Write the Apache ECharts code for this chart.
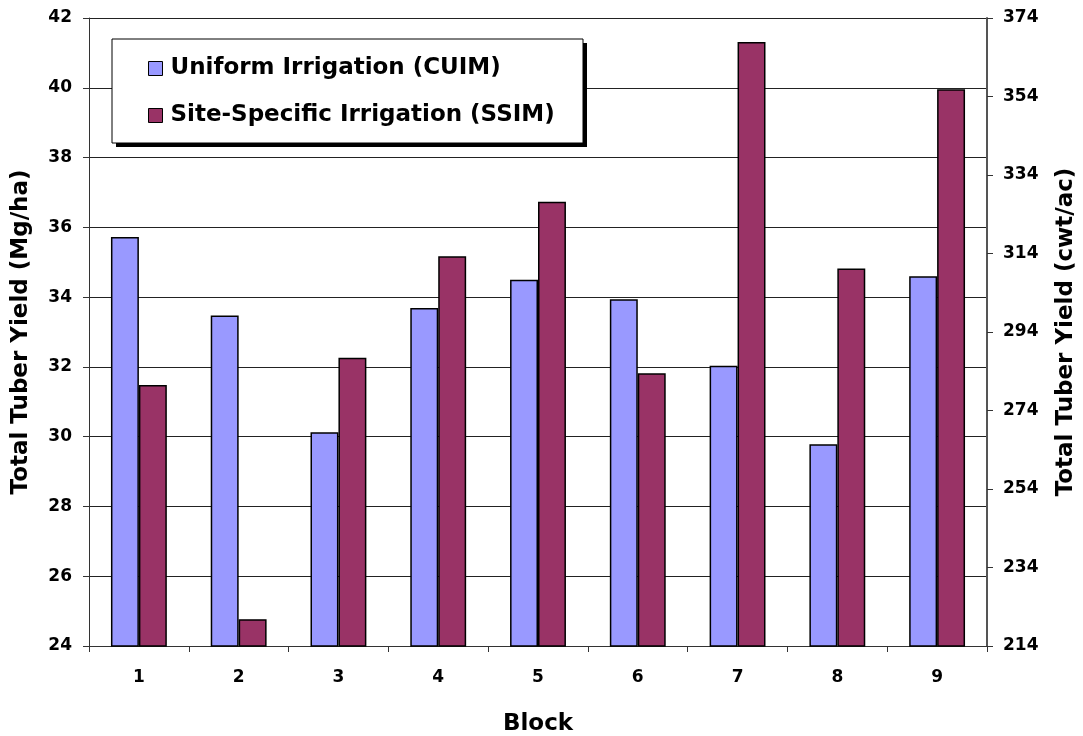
<!DOCTYPE html>
<html>
<head>
<meta charset="utf-8">
<script src="https://cdn.jsdelivr.net/npm/echarts@6/dist/echarts.min.js"></script>
<style>
  html, body { margin: 0; padding: 0; background: #fff; }
  #chart { width: 1083px; height: 736px; }
</style>
</head>
<body>
<div id="chart"></div>
<script>
// 区块
const blocks = ['1', '2', '3', '4', '5', '6', '7', '8', '9'];
// 产量 Mg/ha
const uniformYield = [35.72, 33.47, 30.13, 33.69, 34.50, 33.94, 32.03, 29.78, 34.60];
const siteSpecificYield = [31.48, 24.77, 32.26, 35.17, 36.73, 31.82, 41.31, 34.82, 39.96];
// 右轴 cwt/ac 起点
const rightAxisBase = 214;

const font = '"DejaVu Sans", Arial, sans-serif';
const chart = echarts.init(document.getElementById('chart'));

// 图例方框
const legendBox = { x: 112, y: 39, width: 471, height: 104 };

chart.setOption({
  backgroundColor: '#fff',
  animation: false,
  textStyle: { fontFamily: font },
  grid: { left: 89, right: 96, top: 18, bottom: 90, containLabel: false, outerBoundsMode: 'none' },
  graphic: [
    {
      type: 'rect',
      z: 90,
      shape: { x: legendBox.x + 4, y: legendBox.y + 4, width: legendBox.width, height: legendBox.height },
      style: { fill: '#000' },
    },
    {
      type: 'rect',
      z: 91,
      shape: legendBox,
      style: { fill: '#fff', stroke: '#000', lineWidth: 1 },
    },
  ],
  legend: {
    orient: 'vertical',
    left: 148,
    top: 57,
    padding: 0,
    itemGap: 24,
    itemWidth: 14,
    itemHeight: 14,
    icon: 'rect',
    z: 100,
    textStyle: { fontSize: 23, fontWeight: 'bold', color: '#000', fontFamily: font, padding: [0, 0, 0, 3] },
    data: [
      { name: 'Uniform Irrigation (CUIM)', itemStyle: { borderColor: '#000', borderWidth: 1 } },
      { name: 'Site-Specific Irrigation (SSIM)', itemStyle: { borderColor: '#000', borderWidth: 1 } },
    ],
  },
  xAxis: {
    type: 'category',
    data: blocks,
    name: 'Block',
    nameLocation: 'middle',
    nameGap: 67,
    nameTextStyle: { fontSize: 23, fontWeight: 'bold', color: '#000' },
    axisLine: { lineStyle: { color: '#333', width: 1 } },
    axisTick: { show: true, length: 6, lineStyle: { color: '#333' } },
    axisLabel: { fontSize: 17, fontWeight: 'bold', color: '#000', margin: 23 },
  },
  yAxis: [
    {
      type: 'value',
      min: 24,
      max: 42,
      interval: 2,
      name: 'Total Tuber Yield (Mg/ha)',
      nameLocation: 'middle',
      nameGap: 56,
      nameTextStyle: { fontSize: 23, fontWeight: 'bold', color: '#000' },
      axisLine: { show: true, lineStyle: { color: '#333', width: 1 } },
      axisTick: { show: true, length: 6, lineStyle: { color: '#333' } },
      axisLabel: { fontSize: 17, fontWeight: 'bold', color: '#000', margin: 17 },
      splitLine: { show: true, lineStyle: { color: '#222', width: 1 } },
    },
    {
      type: 'value',
      min: 0,
      max: 160,
      interval: 20,
      position: 'right',
      name: 'Total Tuber Yield (cwt/ac)',
      nameLocation: 'middle',
      nameGap: 68,
      nameRotate: 90,
      nameTextStyle: { fontSize: 23, fontWeight: 'bold', color: '#000' },
      axisLine: { show: true, lineStyle: { color: '#555', width: 2 } },
      axisTick: { show: true, length: 6, lineStyle: { color: '#333' } },
      axisLabel: {
        fontSize: 17, fontWeight: 'bold', color: '#000', margin: 16,
        formatter: (v) => String(v + rightAxisBase),
      },
      splitLine: { show: false },
    },
  ],
  series: [
    {
      name: 'Uniform Irrigation (CUIM)',
      type: 'bar',
      data: uniformYield,
      barGap: '0%',
      barCategoryGap: '44%',
      itemStyle: { color: '#9999FF', borderColor: '#000', borderWidth: 1.5 },
    },
    {
      name: 'Site-Specific Irrigation (SSIM)',
      type: 'bar',
      data: siteSpecificYield,
      barGap: '0%',
      barCategoryGap: '44%',
      itemStyle: { color: '#993366', borderColor: '#000', borderWidth: 1.5 },
    },
  ],
});
</script>
</body>
</html>
